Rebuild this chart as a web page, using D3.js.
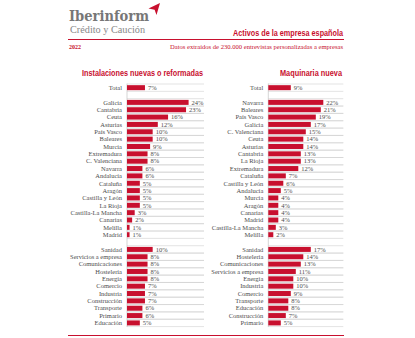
<!DOCTYPE html>
<html>
<head>
<meta charset="utf-8">
<script src="https://cdn.jsdelivr.net/npm/d3@7"></script>
<style>
  body { margin: 0; background: #fff; }
  svg { display: block; }
</style>
</head>
<body>
<svg id="chart" width="415" height="338"></svg>
<script>
// regions, in the order each panel shows them
const instRegions = ['Galicia', 'Cantabria', 'Ceuta', 'Asturias', 'País Vasco', 'Baleares', 'Murcia',
    'Extremadura', 'C. Valenciana', 'Navarra', 'Andalucía', 'Cataluña', 'Aragón', 'Castilla y León',
    'La Rioja', 'Castilla-La Mancha', 'Canarias', 'Melilla', 'Madrid'];
const instRegionValues = [24, 23, 16, 12, 10, 10, 9, 8, 8, 6, 6, 5, 5, 5, 5, 3, 2, 1, 1];
const instSectors = ['Sanidad', 'Servicios a empresa', 'Comunicaciones', 'Hostelería', 'Energía',
    'Comercio', 'Industria', 'Construcción', 'Transporte', 'Primario', 'Educación'];
const instSectorValues = [10, 8, 8, 8, 8, 7, 7, 7, 6, 6, 5];
const instTotal = 7;

const maqRegions = ['Navarra', 'Baleares', 'País Vasco', 'Galicia', 'C. Valenciana', 'Ceuta', 'Asturias',
    'Cantabria', 'La Rioja', 'Extremadura', 'Cataluña', 'Castilla y León', 'Andalucía', 'Murcia',
    'Aragón', 'Canarias', 'Madrid', 'Castilla-La Mancha', 'Melilla'];
const maqRegionValues = [22, 21, 19, 17, 15, 14, 14, 13, 13, 12, 7, 6, 5, 4, 4, 4, 4, 3, 2];
const maqSectors = ['Sanidad', 'Hostelería', 'Comunicaciones', 'Servicios a empresa', 'Energía',
    'Industria', 'Comercio', 'Transporte', 'Educación', 'Construcción', 'Primario'];
const maqSectorValues = [17, 14, 13, 11, 10, 10, 9, 8, 8, 7, 5];
const maqTotal = 9;

const RED = '#c8102e';
const GREY = '#4d4d4d';

let svg = d3.select('#chart');

/** one panel of horizontal bars */
class BarPanel {
    constructor(title, total, regions, regionValues, sectors, sectorValues) {
        this.title = title;
        // spacer rows keep the groups apart
        this.rows = [{key: 'Total', label: 'Total', value: total}, {key: '_a'}]
            .concat(regions.map((r, i) => ({key: 'r' + i, label: r, value: regionValues[i]})))
            .concat([{key: '_b'}])
            .concat(sectors.map((s, i) => ({key: 's' + i, label: s, value: sectorValues[i]})));
    }

    draw(x0, x1, titleX, titleW) {
        let g = svg.append('g');

        let yScale = d3.scaleBand()
            .domain(this.rows.map(d => d.key))
            .range([84, 326.6])
            .paddingInner(0.32)
            .paddingOuter(0.16);
        let step = yScale.step();
        let xScale = d3.scaleLinear().domain([0, 30]).range([x0, x1]);

        g.append('text')
            .attr('x', titleX).attr('y', 76)
            .attr('textLength', titleW).attr('lengthAdjust', 'spacingAndGlyphs')
            .style('font', 'bold 9px "Liberation Sans Narrow", "Liberation Sans", sans-serif')
            .attr('fill', RED)
            .text(this.title);

        let data = this.rows.filter(d => d.label);
        let rowTop = d => yScale(d.key) - yScale.paddingInner() * step / 2;

        // separators above and below every row
        let lines = [];
        data.forEach(d => { lines.push(rowTop(d)); lines.push(rowTop(d) + step); });
        g.selectAll('line.grid').data(lines).enter().append('line')
            .attr('x1', x0).attr('x2', x1)
            .attr('y1', d => d).attr('y2', d => d)
            .attr('stroke', '#d0d0d0').attr('stroke-width', 0.6);

        g.append('line')
            .attr('x1', x0).attr('x2', x0)
            .attr('y1', 83.5).attr('y2', 327)
            .attr('stroke', '#bbb').attr('stroke-width', 0.6);

        g.selectAll('rect').data(data).enter().append('rect')
            .attr('x', xScale(0))
            .attr('y', d => yScale(d.key))
            .attr('width', d => xScale(d.value) - xScale(0))
            .attr('height', yScale.bandwidth())
            .attr('fill', RED);

        g.selectAll('text.lab').data(data).enter().append('text')
            .attr('class', 'lab')
            .attr('x', x0 - 5)
            .attr('y', d => yScale(d.key) + yScale.bandwidth() / 2)
            .attr('dy', '0.35em')
            .attr('text-anchor', 'end')
            .style('font', '6.5px "Liberation Serif", serif')
            .attr('fill', GREY)
            .text(d => d.label);

        g.selectAll('text.val').data(data).enter().append('text')
            .attr('class', 'val')
            .attr('x', d => xScale(d.value) + 3)
            .attr('y', d => yScale(d.key) + yScale.bandwidth() / 2)
            .attr('dy', '0.35em')
            .style('font', '6.5px "Liberation Serif", serif')
            .attr('fill', GREY)
            .text(d => d.value + '%');
    }
}

// header
svg.append('text')
    .attr('x', 69).attr('y', 21)
    .style('font', 'bold 15px "DejaVu Serif", serif')
    .attr('textLength', 80).attr('lengthAdjust', 'spacingAndGlyphs')
    .attr('fill', '#777')
    .text('Iberinform');
svg.append('text')
    .attr('x', 70).attr('y', 32.5)
    .style('font', '9.5px "Liberation Serif", serif')
    .attr('textLength', 75).attr('lengthAdjust', 'spacingAndGlyphs')
    .attr('fill', '#888')
    .text('Crédito y Caución');
// little red plane
svg.append('path')
    .attr('d', 'M148.5,8.5 L160,3 L156.5,15 L154.6,9.8 Z')
    .attr('fill', RED);

svg.append('text')
    .attr('x', 343).attr('y', 36)
    .attr('text-anchor', 'end')
    .attr('textLength', 110).attr('lengthAdjust', 'spacingAndGlyphs')
    .style('font', 'bold 9.5px "Liberation Sans Narrow", "Liberation Sans", sans-serif')
    .attr('fill', RED)
    .text('Activos de la empresa española');

svg.append('line')
    .attr('x1', 68).attr('x2', 344).attr('y1', 39.5).attr('y2', 39.5)
    .attr('stroke', RED).attr('stroke-width', 1);

svg.append('text')
    .attr('x', 69).attr('y', 48.5)
    .style('font', 'bold 6px "Liberation Serif", serif')
    .attr('fill', RED)
    .text('2022');
svg.append('text')
    .attr('x', 343).attr('y', 48.5)
    .attr('text-anchor', 'end')
    .attr('textLength', 173).attr('lengthAdjust', 'spacingAndGlyphs')
    .style('font', '6px "Liberation Serif", serif')
    .attr('fill', RED)
    .text('Datos extraídos de 230.000 entrevistas personalizadas a empresas');

new BarPanel('Instalaciones nuevas o reformadas', instTotal, instRegions, instRegionValues,
    instSectors, instSectorValues).draw(127, 204, 82, 121);
new BarPanel('Maquinaria nueva', maqTotal, maqRegions, maqRegionValues,
    maqSectors, maqSectorValues).draw(268.3, 343.3, 280, 62);

svg.append('line')
    .attr('x1', 68).attr('x2', 344).attr('y1', 335.5).attr('y2', 335.5)
    .attr('stroke', RED).attr('stroke-width', 1);
</script>
</body>
</html>
